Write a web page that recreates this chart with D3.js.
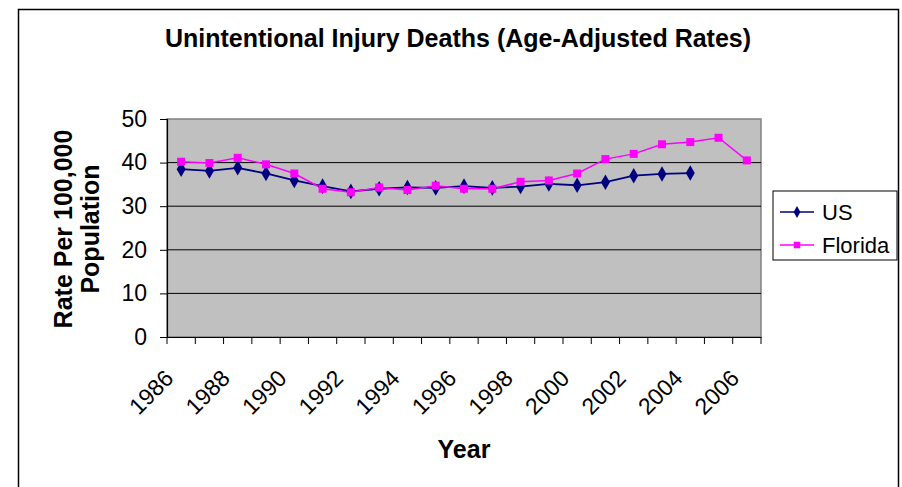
<!DOCTYPE html>
<html>
<head>
<meta charset="utf-8">
<script src="https://cdn.jsdelivr.net/npm/d3@7"></script>
<style>
  body { margin: 0; background: #fff; }
  svg { display: block; font-family: "Liberation Sans", Arial, sans-serif; }
</style>
</head>
<body>
<div id="chart"></div>
<script>
// chart data
var years = [1986, 1987, 1988, 1989, 1990, 1991, 1992, 1993, 1994, 1995, 1996,
             1997, 1998, 1999, 2000, 2001, 2002, 2003, 2004, 2005, 2006];
var usRates = [38.5, 38.1, 38.8, 37.5, 35.9, 34.6, 33.4, 34.0, 34.3, 34.2, 34.6,
               34.2, 34.5, 35.1, 34.8, 35.5, 37.0, 37.4, 37.6, null, null];
var floridaRates = [40.2, 39.9, 41.1, 39.6, 37.5, 34.0, 33.2, 34.3, 33.7, 34.7, 34.0,
                    34.0, 35.6, 35.9, 37.5, 40.8, 42.0, 44.2, 44.7, 45.7, 40.5];
var yTicks = [0, 10, 20, 30, 40, 50];
var xLabels = [1986, 1988, 1990, 1992, 1994, 1996, 1998, 2000, 2002, 2004, 2006];

var W = 902, H = 487;
var plot = {left: 167, right: 761, top: 119, bottom: 337};
var FONT = '"Liberation Sans", Arial, sans-serif';

var svg = d3.select("#chart").append("svg")
  .attr("width", W)
  .attr("height", H);

// outer chart frame (bottom edge is cut off)
svg.append("rect")
  .attr("x", 18.5).attr("y", 9.5)
  .attr("width", 880).attr("height", 500)
  .attr("fill", "#fff")
  .attr("stroke", "#000")
  .attr("stroke-width", 1.5);

var x = d3.scaleBand().domain(years).range([plot.left, plot.right]);
var y = d3.scaleLinear().domain([0, 50]).range([plot.bottom, plot.top]);

// grey plot area
svg.append("rect")
  .attr("x", plot.left).attr("y", plot.top)
  .attr("width", plot.right - plot.left).attr("height", plot.bottom - plot.top)
  .attr("fill", "#c0c0c0")
  .attr("stroke", "#808080")
  .attr("stroke-width", 1.5);

// gridlines
svg.append("g").selectAll("line")
  .data(yTicks.filter(function(d) { return d > 0 && d < 50; }))
  .enter().append("line")
  .attr("x1", plot.left).attr("x2", plot.right)
  .attr("y1", function(d) { return y(d); })
  .attr("y2", function(d) { return y(d); })
  .attr("stroke", "#000")
  .attr("stroke-width", 1);

// y axis
var yAxis = d3.axisLeft(y).tickValues(yTicks).tickSize(7).tickPadding(13);
var gy = svg.append("g")
  .attr("transform", "translate(" + plot.left + ",0)")
  .call(yAxis)
  .attr("font-family", FONT)
  .attr("font-size", 23);
gy.select(".domain").attr("stroke", "#000").attr("stroke-width", 1.2);
gy.selectAll("text").attr("fill", "#000");

// x axis: ticks between categories, labels every other year
var xAxis = d3.axisBottom(x).tickSize(0).tickFormat("");
var gx = svg.append("g")
  .attr("transform", "translate(0," + plot.bottom + ")")
  .call(xAxis)
  .attr("font-family", FONT)
  .attr("font-size", 23);
gx.select(".domain").attr("stroke", "#000").attr("stroke-width", 1.2);

var boundaries = years.map(function(d) { return x(d); }).concat([plot.right]);
gx.selectAll(".bound")
  .data(boundaries)
  .enter().append("line")
  .attr("class", "bound")
  .attr("x1", function(d) { return d; }).attr("x2", function(d) { return d; })
  .attr("y1", 0).attr("y2", 7)
  .attr("stroke", "#000");

gx.selectAll(".xlab")
  .data(xLabels)
  .enter().append("text")
  .attr("class", "xlab")
  .attr("transform", function(d) {
    return "translate(" + (x(d) + x.bandwidth() / 2 - 12) + ",37) rotate(-45)";
  })
  .attr("text-anchor", "end")
  .attr("dy", "0.35em")
  .attr("fill", "#000")
  .text(function(d) { return d; });

// series lines and markers
function cx(i) { return x(years[i]) + x.bandwidth() / 2; }

var line = d3.line()
  .defined(function(d) { return d != null; })
  .x(function(d, i) { return cx(i); })
  .y(function(d) { return y(d); });

svg.append("path")
  .datum(usRates)
  .attr("fill", "none")
  .attr("stroke", "#000080")
  .attr("stroke-width", 1.8)
  .attr("d", line);

svg.append("path")
  .datum(floridaRates)
  .attr("fill", "none")
  .attr("stroke", "#ff00ff")
  .attr("stroke-width", 1.5)
  .attr("d", line);

var diamond = d3.symbol().type(d3.symbolDiamond).size(70);

svg.append("g").selectAll("path")
  .data(usRates.map(function(v, i) { return {v: v, i: i}; }).filter(function(d) { return d.v != null; }))
  .enter().append("path")
  .attr("d", diamond)
  .attr("transform", function(d) { return "translate(" + cx(d.i) + "," + y(d.v) + ")"; })
  .attr("fill", "#000080");

svg.append("g").selectAll("rect")
  .data(floridaRates.map(function(v, i) { return {v: v, i: i}; }))
  .enter().append("rect")
  .attr("x", function(d) { return cx(d.i) - 4; })
  .attr("y", function(d) { return y(d.v) - 4; })
  .attr("width", 8).attr("height", 8)
  .attr("fill", "#ff00ff");

// title
svg.append("text")
  .attr("x", 458).attr("y", 47)
  .attr("text-anchor", "middle")
  .style("font-size", "25px")
  .style("font-weight", "bold")
  .text("Unintentional Injury Deaths (Age-Adjusted Rates)");

// axis titles
svg.append("text")
  .attr("transform", "translate(72,229) rotate(-90)")
  .attr("text-anchor", "middle")
  .style("font-size", "25px")
  .style("font-weight", "bold")
  .text("Rate Per 100,000");
svg.append("text")
  .attr("transform", "translate(99,229) rotate(-90)")
  .attr("text-anchor", "middle")
  .style("font-size", "25px")
  .style("font-weight", "bold")
  .text("Population");

svg.append("text")
  .attr("x", 464).attr("y", 458)
  .attr("text-anchor", "middle")
  .style("font-size", "25px")
  .style("font-weight", "bold")
  .text("Year");

// legend
var legend = svg.append("g").attr("transform", "translate(773,191)");
legend.append("rect")
  .attr("width", 124).attr("height", 69)
  .attr("fill", "#fff")
  .attr("stroke", "#000")
  .attr("stroke-width", 1);

var legendItems = [
  {name: "US", color: "#000080", shape: "diamond"},
  {name: "Florida", color: "#ff00ff", shape: "square"}
];
var li = legend.selectAll(".item")
  .data(legendItems)
  .enter().append("g")
  .attr("class", "item")
  .attr("transform", function(d, i) { return "translate(0," + (21 + i * 33) + ")"; });
li.append("line")
  .attr("x1", 7).attr("x2", 41)
  .attr("stroke", function(d) { return d.color; })
  .attr("stroke-width", 1.5);
li.append("path")
  .attr("transform", "translate(24,0)")
  .attr("d", function(d) {
    return d.shape === "diamond" ? d3.symbol().type(d3.symbolDiamond).size(40)() : d3.symbol().type(d3.symbolSquare).size(42)();
  })
  .attr("fill", function(d) { return d.color; });
li.append("text")
  .attr("x", 49).attr("dy", "0.36em")
  .style("font-size", "22px")
  .text(function(d) { return d.name; });
</script>
</body>
</html>
